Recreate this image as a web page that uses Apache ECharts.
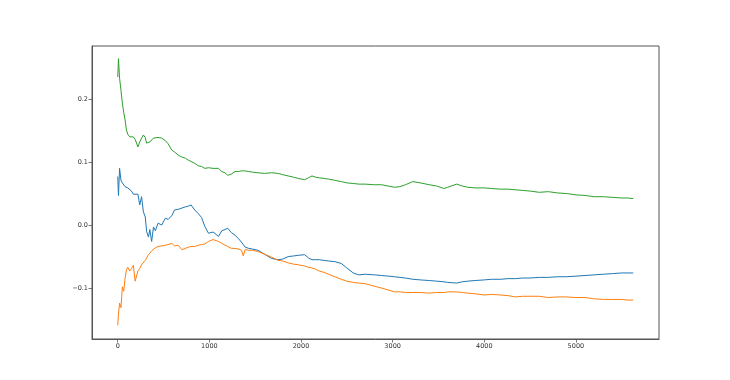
<!DOCTYPE html>
<html>
<head>
<meta charset="utf-8">
<script src="https://cdn.jsdelivr.net/npm/echarts@6/dist/echarts.min.js"></script>
<style>
html,body{margin:0;padding:0;background:#fff;}
#chart{width:730px;height:380px;}
</style>
</head>
<body>
<div id="chart"></div>
<script>
const steps = [0,8,20,35,50,65,80,95,110,130,150,170,190,220,240,260,280,300,315,335,350,370,390,410,440,480,520,550,590,620,660,700,740,770,800,840,880,915,950,990,1040,1060,1100,1135,1170,1200,1240,1280,1320,1350,1370,1390,1430,1470,1530,1600,1680,1750,1800,1860,1920,1970,2040,2080,2120,2160,2200,2250,2300,2370,2440,2500,2570,2630,2700,2800,2880,2950,3020,3080,3140,3220,3300,3400,3480,3560,3600,3700,3760,3820,3900,4000,4080,4180,4260,4340,4420,4500,4600,4700,4800,4900,5000,5100,5200,5300,5400,5500,5560,5626];

const blueVals = [0.078,0.048,0.091,0.072,0.068,0.070,0.062,0.064,0.060,0.057,0.055,0.050,0.048,0.050,0.033,0.046,0.022,0.014,-0.009,-0.018,-0.006,-0.025,-0.002,-0.008,0.004,0.001,0.012,0.010,0.016,0.025,0.026,0.028,0.030,0.031,0.033,0.025,0.019,0.013,-0.001,-0.012,-0.010,-0.007,-0.017,-0.008,-0.006,-0.004,-0.011,-0.015,-0.021,-0.026,-0.030,-0.034,-0.036,-0.037,-0.039,-0.045,-0.052,-0.054,-0.053,-0.049,-0.048,-0.047,-0.046,-0.051,-0.054,-0.054,-0.054,-0.055,-0.056,-0.057,-0.060,-0.067,-0.075,-0.078,-0.077,-0.078,-0.079,-0.080,-0.081,-0.082,-0.083,-0.085,-0.086,-0.087,-0.088,-0.089,-0.090,-0.091,-0.089,-0.088,-0.087,-0.086,-0.085,-0.085,-0.084,-0.084,-0.083,-0.083,-0.082,-0.082,-0.081,-0.081,-0.080,-0.079,-0.078,-0.077,-0.076,-0.075,-0.075,-0.075];

const orangeVals = [-0.158,-0.140,-0.123,-0.130,-0.097,-0.104,-0.084,-0.070,-0.066,-0.072,-0.068,-0.063,-0.088,-0.072,-0.068,-0.062,-0.062,-0.055,-0.052,-0.046,-0.048,-0.040,-0.038,-0.035,-0.033,-0.032,-0.031,-0.030,-0.028,-0.032,-0.031,-0.038,-0.036,-0.034,-0.033,-0.033,-0.031,-0.030,-0.029,-0.025,-0.022,-0.022,-0.025,-0.028,-0.031,-0.033,-0.036,-0.036,-0.037,-0.039,-0.048,-0.038,-0.039,-0.039,-0.041,-0.045,-0.050,-0.055,-0.056,-0.059,-0.061,-0.062,-0.064,-0.066,-0.067,-0.069,-0.072,-0.074,-0.077,-0.081,-0.085,-0.088,-0.090,-0.091,-0.092,-0.096,-0.099,-0.102,-0.105,-0.105,-0.106,-0.106,-0.106,-0.107,-0.106,-0.106,-0.105,-0.105,-0.106,-0.107,-0.108,-0.110,-0.109,-0.110,-0.111,-0.113,-0.112,-0.112,-0.112,-0.114,-0.113,-0.113,-0.114,-0.114,-0.116,-0.117,-0.117,-0.117,-0.118,-0.118];

const greenVals = [0.236,0.265,0.234,0.215,0.195,0.180,0.168,0.152,0.145,0.141,0.140,0.141,0.137,0.125,0.133,0.139,0.144,0.140,0.131,0.134,0.133,0.136,0.139,0.141,0.140,0.139,0.135,0.130,0.120,0.117,0.112,0.109,0.107,0.104,0.102,0.099,0.095,0.094,0.091,0.092,0.091,0.090,0.091,0.086,0.084,0.080,0.082,0.086,0.086,0.087,0.087,0.087,0.086,0.085,0.084,0.083,0.084,0.083,0.081,0.079,0.077,0.075,0.073,0.076,0.079,0.077,0.076,0.075,0.074,0.072,0.070,0.068,0.067,0.066,0.066,0.065,0.065,0.063,0.061,0.062,0.065,0.070,0.068,0.065,0.063,0.059,0.061,0.066,0.063,0.061,0.060,0.060,0.059,0.058,0.058,0.057,0.056,0.055,0.053,0.054,0.052,0.051,0.049,0.048,0.046,0.046,0.045,0.044,0.044,0.043];

const xTicks = [0,1000,2000,3000,4000,5000];
const yTicks = [-0.1,0.0,0.1,0.2];

function pairs(vals){ return steps.map((s,i)=>[s, vals[i]]); }

const chart = echarts.init(document.getElementById('chart'), null, {renderer:'canvas'});
const labelStyle = {fontFamily:'DejaVu Sans', fontSize:6.5, color:'#333'};
chart.setOption({
  animation:false,
  backgroundColor:'#fff',
  grid:{left:92, top:46, width:567, height:293, show:true, borderColor:'#555', borderWidth:1, containLabel:false},
  xAxis:{
    type:'value', min:-281, max:5907, position:'bottom',
    axisLine:{show:true, onZero:false, lineStyle:{color:'#555', width:1}},
    splitLine:{show:false},
    axisTick:{show:true, inside:false, customValues:xTicks, length:3.5, lineStyle:{color:'#555', width:0.8}},
    axisLabel:Object.assign({show:true, customValues:xTicks, margin:4, formatter:v=>String(v)}, labelStyle)
  },
  yAxis:{
    type:'value', min:-0.1798, max:0.2852, position:'left',
    axisLine:{show:true, onZero:false, lineStyle:{color:'#555', width:1}},
    splitLine:{show:false},
    axisTick:{show:true, inside:false, customValues:yTicks, length:3.5, lineStyle:{color:'#555', width:0.8}},
    axisLabel:Object.assign({show:true, customValues:yTicks, margin:4, formatter:v=>v.toFixed(1).replace('-','\u2212')}, labelStyle)
  },
  series:[
    {type:'line', data:pairs(blueVals), showSymbol:false, lineStyle:{color:'#1f77b4', width:1}, itemStyle:{color:'#1f77b4'}},
    {type:'line', data:pairs(orangeVals), showSymbol:false, lineStyle:{color:'#ff7f0e', width:1}, itemStyle:{color:'#ff7f0e'}},
    {type:'line', data:pairs(greenVals), showSymbol:false, lineStyle:{color:'#2ca02c', width:1}, itemStyle:{color:'#2ca02c'}}
  ]
});
</script>
</body>
</html>
